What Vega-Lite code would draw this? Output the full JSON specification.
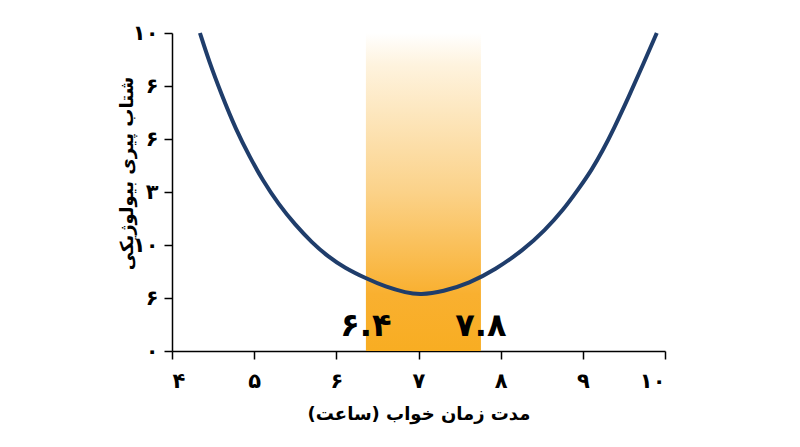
{
  "$schema": "https://vega.github.io/schema/vega-lite/v6.json",
  "width": 493,
  "height": 318,
  "autosize": {"type": "none"},
  "padding": {"left": 172, "top": 33, "right": 135, "bottom": 96},
  "background": "white",
  "config": {
    "view": {"stroke": null},
    "font": "DejaVu Sans",
    "axis": {
      "grid": false,
      "domainColor": "#000000",
      "domainWidth": 1.5,
      "tickColor": "#000000",
      "tickWidth": 1.5,
      "tickSize": 8,
      "labelFont": "DejaVu Sans",
      "labelFontSize": 21,
      "labelFontWeight": "bold",
      "labelColor": "#000000",
      "titleFont": "DejaVu Sans",
      "titleFontSize": 18,
      "titleFontWeight": "bold",
      "titleColor": "#000000"
    }
  },
  "datasets": {
    "band": [{"start": 6.36, "end": 7.76, "bottom": 0, "top": 6}],
    "curve": [
      {"hours": 4.34, "aging": 6.0},
      {"hours": 4.45, "aging": 5.47},
      {"hours": 4.6, "aging": 4.85},
      {"hours": 4.78, "aging": 4.17},
      {"hours": 4.95, "aging": 3.65},
      {"hours": 5.1, "aging": 3.23},
      {"hours": 5.3, "aging": 2.76},
      {"hours": 5.5, "aging": 2.38},
      {"hours": 5.7, "aging": 2.05},
      {"hours": 5.9, "aging": 1.78},
      {"hours": 6.1, "aging": 1.57},
      {"hours": 6.36, "aging": 1.37},
      {"hours": 6.6, "aging": 1.21},
      {"hours": 6.85, "aging": 1.1},
      {"hours": 7.02, "aging": 1.06},
      {"hours": 7.3, "aging": 1.12},
      {"hours": 7.62, "aging": 1.28},
      {"hours": 7.93, "aging": 1.53},
      {"hours": 8.28, "aging": 1.91},
      {"hours": 8.54, "aging": 2.28},
      {"hours": 8.76, "aging": 2.66},
      {"hours": 8.94, "aging": 3.04},
      {"hours": 9.11, "aging": 3.42},
      {"hours": 9.245, "aging": 3.79},
      {"hours": 9.37, "aging": 4.17},
      {"hours": 9.56, "aging": 4.8},
      {"hours": 9.74, "aging": 5.43},
      {"hours": 9.9, "aging": 6.0}
    ],
    "labels": [
      {"hours": 6.36, "aging": 0.47, "label": "۶.۴"},
      {"hours": 7.76, "aging": 0.47, "label": "۷.۸"}
    ]
  },
  "layer": [
    {
      "data": {"name": "band"},
      "mark": {
        "type": "rect",
        "color": {
          "gradient": "linear",
          "x1": 0, "y1": 0, "x2": 0, "y2": 1,
          "stops": [
            {"offset": 0, "color": "#ffffff"},
            {"offset": 0.1, "color": "#FEF3DE"},
            {"offset": 0.5, "color": "#FBD289"},
            {"offset": 0.82, "color": "#F9B030"},
            {"offset": 1, "color": "#F8AD22"}
          ]
        }
      },
      "encoding": {
        "x": {
          "field": "start", "type": "quantitative",
          "scale": {"domain": [4, 10], "nice": false, "zero": false},
          "title": "مدت زمان خواب (ساعت)",
          "axis": {
            "values": [4, 5, 6, 7, 8, 9, 10],
            "labelExpr": "['۴','۵','۶','۷','۸','۹','۱۰'][datum.value - 4]",
            "labelPadding": 11,
            "titlePadding": 14
          }
        },
        "x2": {"field": "end"},
        "y": {
          "field": "bottom", "type": "quantitative",
          "scale": {"domain": [0, 6], "nice": false},
          "title": "شتاب پیری بیولوژیکی",
          "axis": {
            "values": [0, 1, 2, 3, 4, 5, 6],
            "labelExpr": "['۰','۶','۱۰','۳','۶','۶','۱۰'][datum.value]",
            "labelPadding": 6,
            "titleX": -36,
            "titleY": 140
          }
        },
        "y2": {"field": "top"}
      }
    },
    {
      "data": {"name": "curve"},
      "mark": {"type": "line", "color": "#1F3D6B", "strokeWidth": 4, "interpolate": "basis"},
      "encoding": {
        "x": {"field": "hours", "type": "quantitative", "title": "مدت زمان خواب (ساعت)"},
        "y": {"field": "aging", "type": "quantitative", "title": "شتاب پیری بیولوژیکی"}
      }
    },
    {
      "data": {"name": "labels"},
      "mark": {"type": "text", "font": "DejaVu Sans", "fontSize": 32, "fontWeight": "bold", "color": "#000000", "baseline": "middle", "align": "center"},
      "encoding": {
        "x": {"field": "hours", "type": "quantitative", "title": "مدت زمان خواب (ساعت)"},
        "y": {"field": "aging", "type": "quantitative", "title": "شتاب پیری بیولوژیکی"},
        "text": {"field": "label"}
      }
    }
  ]
}
